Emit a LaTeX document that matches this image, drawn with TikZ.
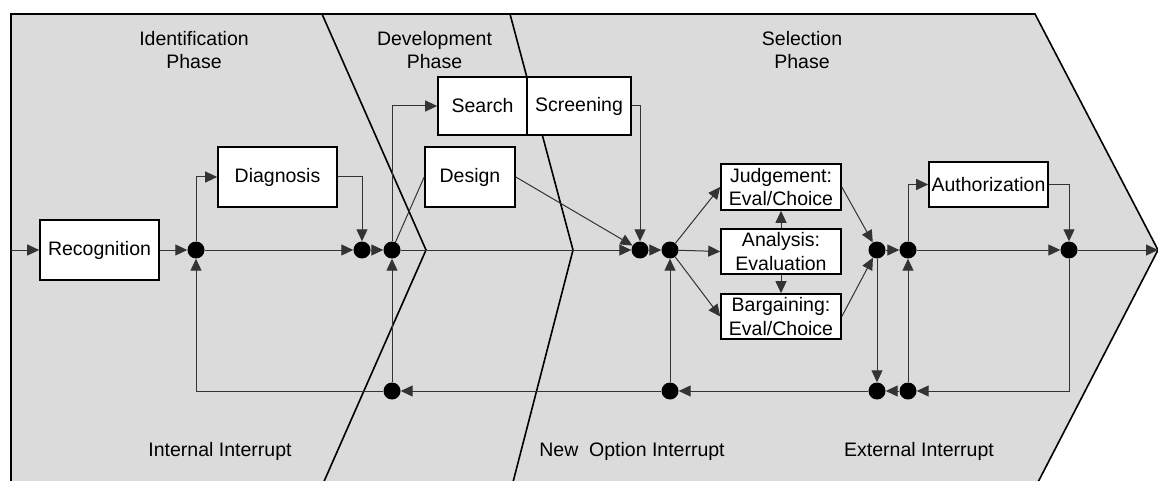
\documentclass[tikz,border=0pt]{standalone}
\usepackage{fontspec}
\setmainfont{Liberation Sans}
\usetikzlibrary{arrows.meta}
\begin{document}
\begin{tikzpicture}[x=1pt,y=-1pt,
  txt/.style={font=\fontsize{19.5}{23.5}\selectfont, align=center, text=black},
  box/.style={draw=black, line width=1.6pt, fill=white, inner sep=0pt, txt},
  dot/.style={circle, fill=black, minimum size=17pt, inner sep=0pt},
  link/.style={draw=black!80, line width=1pt},
  arr/.style={link, -{Triangle[length=12pt,width=11pt]}},
  border/.style={draw=black, line width=1.6pt}]
\useasboundingbox (0,0) rectangle (1158,481);

% phase chevron background
\path[border, fill=black!14] (11,14) -- (1035,14) -- (1158,250) -- (1036,486) -- (11,486) -- cycle;
% phase dividers
\draw[border] (322,14) -- (426,250) -- (322,486);
\draw[border] (510,14) -- (573,250) -- (512,486);

% phase titles and interrupt labels
\node[txt] (tid)  at (194,50) {Identification\\Phase};
\node[txt] (tdev) at (434.5,50) {Development\\Phase};
\node[txt] (tsel) at (802,50) {Selection\\Phase};
\node[txt] (iint) at (220,451) {Internal Interrupt};
\node[txt] (nint) at (632,451) {New\ \ Option Interrupt};
\node[txt] (eint) at (919,451) {External Interrupt};

% routines
\node[box, minimum width=119pt, minimum height=60pt] (recog) at (99.5,250) {Recognition};
\node[box, minimum width=119pt, minimum height=60pt] (diag) at (277.5,177) {Diagnosis};
\node[box, minimum width=89pt, minimum height=58pt] (search) at (482.5,106) {Search};
\node[box, minimum width=104pt, minimum height=58pt] (screen) at (579,106) {Screening};
\node[box, minimum width=90pt, minimum height=60pt] (design) at (470,177) {Design};
\node[box, minimum width=120pt, minimum height=46pt] (judg) at (781,187) {Judgement:\\Eval/Choice};
\node[box, minimum width=120pt, minimum height=45pt] (anal) at (781,251.5) {Analysis:\\Evaluation};
\node[box, minimum width=120pt, minimum height=45pt] (barg) at (781,316.5) {Bargaining:\\Eval/Choice};
\node[box, minimum width=119pt, minimum height=45pt] (auth) at (988.5,184.5) {Authorization};

% junctions
\node[dot] (j1) at (196,250) {};
\node[dot] (j2) at (362,250) {};
\node[dot] (j3) at (392,250) {};
\node[dot] (j4) at (392,391) {};
\node[dot] (j5) at (640,250) {};
\node[dot] (j6) at (670,250) {};
\node[dot] (j7) at (670,391) {};
\node[dot] (j8) at (877,250) {};
\node[dot] (j9) at (908,250) {};
\node[dot] (j10) at (877,391) {};
\node[dot] (j11) at (908,391) {};
\node[dot] (j12) at (1069,250) {};
\coordinate (in) at (11,250);
\coordinate (out) at (1158,250);

% main flow
\draw[arr] (in) -- (recog);
\draw[arr] (recog) -- (j1);
\draw[arr] (j1) |- (diag.west);
\draw[arr] (j1) -- (j2);
\draw[arr] (diag.east) -| (j2);
\draw[arr] (j2) -- (j3);
\draw[arr] (j3) |- (search.west);
\draw[link] (j3) -- (design.west);
\draw[arr] (j3) -- (j5);
\draw[arr] (design.east) -- (j5);
\draw[arr] (screen.east) -| (j5);
\draw[arr] (j5) -- (j6);
\draw[arr] (j6) -- (judg.west);
\draw[arr] (j6) -- (anal.west);
\draw[arr] (j6) -- (barg.west);
\draw[arr] (anal) -- (judg);
\draw[arr] (anal) -- (barg);
\draw[arr] (judg.east) -- (j8);
\draw[arr] (barg.east) -- (j8);
\draw[arr] (j8) -- (j9);
\draw[arr] (j9) |- (auth.west);
\draw[arr] (j9) -- (j12);
\draw[arr] (auth.east) -| (j12);
\draw[arr] (j12) -- (out);

% interrupt loops
\draw[arr] (j8) -- (j10);
\draw[arr] (j12) |- (j11);
\draw[arr] (j11) -- (j9);
\draw[arr] (j11) -- (j10);
\draw[arr] (j10) -- (j7);
\draw[arr] (j7) -- (j6);
\draw[arr] (j7) -- (j4);
\draw[arr] (j4) -- (j3);
\draw[arr] (j4) -| (j1);
\end{tikzpicture}
\end{document}
